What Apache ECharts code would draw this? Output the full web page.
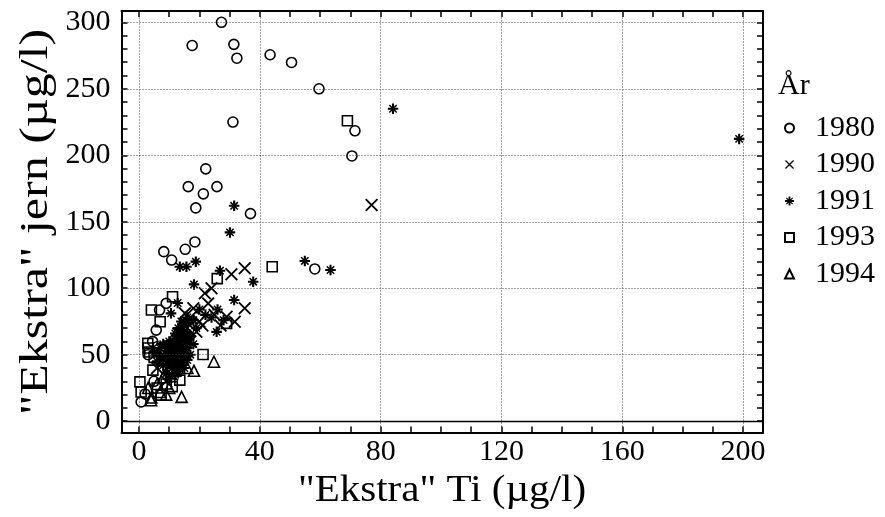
<!DOCTYPE html>
<html>
<head>
<meta charset="utf-8">
<script src="https://cdn.jsdelivr.net/npm/echarts@6/dist/echarts.min.js"></script>
<style>html,body{margin:0;padding:0;background:#fff}#c{width:885px;height:517px}</style>
</head>
<body>
<div id="c"></div>
<script>
// ---- data (x = "Ekstra" Ti µg/l, y = "Ekstra" jern µg/l) ----
const seriesNames = ['1980', '1990', '1991', '1993', '1994'];
const xTickLabels = [0, 40, 80, 120, 160, 200];
const yTickLabels = [0, 50, 100, 150, 200, 250, 300];

const data1980 = [[27.3,300],[17.6,282.6],[31.4,283.4],[32.4,273],[43.4,275.6],[50.5,269.8],[59.6,250],
  [31.1,225],[71.5,218.4],[70.5,199.5],[22.1,189.8],[16.3,176.4],[25.8,176.4],[21.3,171],[18.8,160.4],
  [36.9,156.1],[8.2,127.5],[10.8,121.2],[15.3,129.3],[18.5,134.8],[58.2,114.5],[9,88.6],[6.8,83.6],
  [5.7,68.5],[4.5,60],[6,56],[3,50],[0.7,14.5],[5,30],[8,45],[2,20.5],[12,62],[7.5,52]];
const data1990 = [[77,162.6],[30.6,110.5],[35,115],[35,84.9],[31.7,74.8],[29,78.5],[21.8,96.2],[22.9,88.6],
  [19,67.2],[15.2,81.1],[25,80],[27,72],[20,75],[17,60],[14,55],[12,48],[10,42],[13,66],[16,70],[8,50],
  [11,35],[18,85],[24,100],[6,40],[9,30],[17,78],[21,72]];
const data1991 = [[31.5,162],[30.1,142],[13.5,116.2],[15.7,116.2],[18.8,120],[26.8,113.2],[37.8,104.9],
  [18.2,102.9],[31.5,91.1],[25.7,67.2],[54.9,120.5],[63.4,113.7],[84.1,235],[198.7,212.3],[10.6,81.1],
  [12.8,88.9],[14,75],[15,72],[13,70],[14,68],[15,65],[12,62],[13,60],[16,62],[11,58],[12,55],[14,56],
  [10,52],[11,50],[13,50],[9,48],[12,46],[10,45],[14,44],[8,42],[11,40],[13,38],[9,36],[7,55],[6,50],
  [8,58],[16,55],[17,50],[15,48],[14,42],[12,35],[10,32],[22,80],[20,84],[24,78],[28,76],[16,78],
  [19,70],[26,84],[6,45],[5,52],[15,60],[16,66],[14,63],[13,57],[15,53],[12,52],[11,47],[13,45],
  [10,43],[9,53],[8,47],[12,43],[14,50],[16,46],[15,40],[13,42],[11,55],[10,60],[17,64],[18,58],
  [12,66],[14,71],[16,74],[18,76],[9,57],[7,49]];
const data1993 = [[69,226],[44.1,116.2],[25.9,107.2],[11.1,93.6],[4.1,83.6],[7,74.8],[21.2,50.2],[2.9,58.5],
  [4.6,38.4],[0.3,29.6],[13.5,30.9],[7.3,19.6],[29,73.6],[0.7,22],[3,55],[5,48],[9,28],[11,26],[6,25],
  [3.5,52]];
const data1994 = [[24.8,44.7],[18.2,37.9],[14.1,18.3],[4.1,17.8],[4,15.8],[6,28],[8,33],[10,25],[12,38],
  [3,25],[16,40],[7,22],[9,20]];

const FONT = '"Liberation Serif", "Times New Roman", serif';
const xMin = -5.8, xMax = 206.6, yMin = -8.5, yMax = 308.5;
const range = (a, b, s) => { const r = []; for (let v = a; v <= b + 1e-9; v += s) r.push(v); return r; };
const xTicks = range(0, 200, 10), yTicks = range(0, 300, 10);

const crossPath = 'path://M0,1 L1,0 L5,4 L9,0 L10,1 L6,5 L10,9 L9,10 L5,6 L1,10 L0,9 L4,5 Z';
const starPath = 'path://M0,4 L10,4 L10,6 L0,6 Z M4,0 L6,0 L6,10 L4,10 Z M1,2 L2,1 L9,8 L8,9 Z M8,1 L9,2 L2,9 L1,8 Z';

const openStyle = { color: 'rgba(255,255,255,0)', borderColor: '#000', borderWidth: 1.6, opacity: 1 };
const solidStyle = { color: '#000', borderWidth: 0, opacity: 1 };

function sc(name, data, symbol, size, style) {
  return { name, type: 'scatter', data, symbol, symbolSize: size, itemStyle: style,
    emphasis: { disabled: true }, silent: true, z: 3 };
}

const gridDot = { color: '#444', type: [1, 2], width: 1 };
const markData = xTickLabels.map(v => ({ xAxis: v }))
  .concat(yTickLabels.filter(v => v !== 0).map(v => ({ yAxis: v })))
  .concat([{ yAxis: 0, lineStyle: { color: '#000', type: 'solid', width: 1.3 } }]);

function axisCommon(pos, ticks, labels, isX) {
  return {
    type: 'value', position: pos, min: isX ? xMin : yMin, max: isX ? xMax : yMax,
    axisLine: { show: true, onZero: false, lineStyle: { color: '#000', width: 2 } },
    axisTick: { show: true, inside: true, length: 6, customValues: ticks, lineStyle: { color: '#000', width: 1.5 } },
    axisLabel: labels ? { show: true, customValues: labels, fontFamily: FONT, fontSize: 30, color: '#000',
      margin: isX ? 5 : 11 } : { show: false },
    splitLine: { show: false }, minorTick: { show: false }
  };
}

const chart = echarts.init(document.getElementById('c'), null, { renderer: 'canvas' });
chart.setOption({
  animation: false,
  backgroundColor: '#fff',
  grid: { left: 121.5, right: 122, top: 11, bottom: 84.5, containLabel: false },
  xAxis: [axisCommon('bottom', xTicks, xTickLabels, true), axisCommon('top', xTicks, null, true)],
  yAxis: [axisCommon('left', yTicks, yTickLabels, false), axisCommon('right', yTicks, null, false)],
  legend: {
    orient: 'vertical', left: 779, top: 108, itemWidth: 9, itemHeight: 9, itemGap: 6.5,
    data: seriesNames, selectedMode: false,
    textStyle: { fontFamily: FONT, fontSize: 30, color: '#000', padding: [0, 0, 0, 16] }
  },
  graphic: [
    { type: 'text', left: 778, top: 71, style: { text: 'År', font: '30px ' + FONT, fill: '#000' } },
    { type: 'text', x: 442, y: 491, scaleX: 1.08, style: { text: '"Ekstra" Ti (µg/l)', font: '38px ' + FONT, fill: '#000',
      align: 'center', verticalAlign: 'middle' } },
    { type: 'text', x: 36, y: 222, rotation: Math.PI / 2, scaleX: 1.25, style: { text: '"Ekstra" jern (µg/l)', font: '40px ' + FONT,
      fill: '#000', align: 'center', verticalAlign: 'middle' } }
  ],
  series: [
    { type: 'scatter', data: [], silent: true, z: 1,
      markLine: { silent: true, symbol: 'none', label: { show: false }, lineStyle: gridDot, data: markData,
        emphasis: { disabled: true }, animation: false } },
    sc('1980', data1980, 'circle', 10, openStyle),
    sc('1990', data1990, crossPath, 13, solidStyle),
    sc('1991', data1991, starPath, 10.5, solidStyle),
    sc('1993', data1993, 'rect', 10, openStyle),
    sc('1994', data1994, 'triangle', 11, openStyle)
  ]
});
</script>
</body>
</html>
